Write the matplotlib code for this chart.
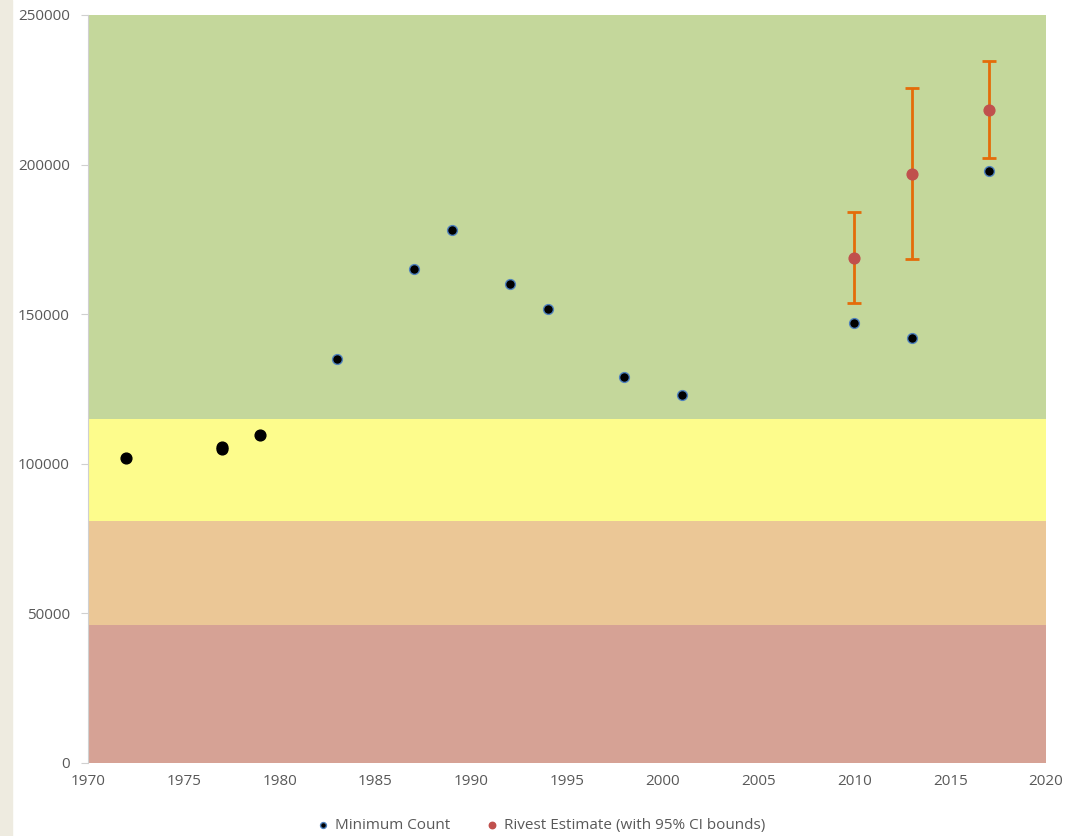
import matplotlib
matplotlib.use('Agg')
import matplotlib.pyplot as plt
from matplotlib.patches import Rectangle

plt.rcParams['font.family'] = ['Open Sans', 'DejaVu Sans']

# minimum counts
count_years = [1972, 1977, 1977, 1979]
count_vals = [102000, 105000, 105600, 109600]
count_years2 = [1983, 1987, 1989, 1992, 1994, 1998, 2001, 2010, 2013, 2017]
count_vals2 = [135000, 165000, 178100, 160000, 151700, 129000, 123000, 147000, 142000, 198000]

# Rivest estimates with 95% CI
rivest_years = [2010, 2013, 2017]
rivest_vals = [168800, 196900, 218200]
ci_low = [153700, 168400, 202200]
ci_high = [184200, 225600, 234600]

# status bands (lower, upper, colour)
band_edges = [0, 46000, 81000, 115000, 250000]
band_colors = ['#D6A295', '#EBC796', '#FDFC8C', '#C4D79B']

fig = plt.figure(figsize=(10.69, 8.36), dpi=100)
fig.patches.append(Rectangle((0, 0), 12 / 1069, 1, transform=fig.transFigure,
                             color='#EEEBE0', zorder=0))
ax = fig.add_axes([88 / 1069, 73 / 836, 958 / 1069, 748 / 836])

for i in range(len(band_colors)):
    ax.axhspan(band_edges[i], band_edges[i + 1], color=band_colors[i], lw=0, zorder=0)

ax.scatter(count_years, count_vals, s=60, color='black', zorder=3)
ax.scatter(count_years2, count_vals2, s=50, color='black', edgecolors='#4F81BD',
           linewidths=1, zorder=3, label='Minimum Count')

err = [[v - l for v, l in zip(rivest_vals, ci_low)],
       [h - v for v, h in zip(rivest_vals, ci_high)]]
ax.errorbar(rivest_years, rivest_vals, yerr=err, fmt='none', ecolor='#E46C0A',
            elinewidth=2, capsize=5, capthick=2, zorder=2)
ax.scatter(rivest_years, rivest_vals, s=60, color='#C0504D', zorder=4,
           label='Rivest Estimate (with 95% CI bounds)')

ax.set_xlim(1970, 2020)
ax.set_ylim(0, 250000)
ax.set_xticks(range(1970, 2021, 5))
ax.set_yticks(range(0, 250001, 50000))
for s in ['top', 'right', 'bottom']:
    ax.spines[s].set_visible(False)
ax.spines['left'].set_color('#D0D0D0')
ax.tick_params(axis='y', colors='#D0D0D0', length=5, labelcolor='#595959', labelsize=11, pad=8)
ax.tick_params(axis='x', length=0, labelcolor='#595959', labelsize=11, pad=8)

ax.legend(loc='upper center', bbox_to_anchor=(0.472, -0.055), ncol=2, frameon=False,
          fontsize=11, labelcolor='#595959', markerscale=0.6, handlelength=1.0,
          handletextpad=0.3, columnspacing=2.2)

fig.savefig('out.png', dpi=100)
